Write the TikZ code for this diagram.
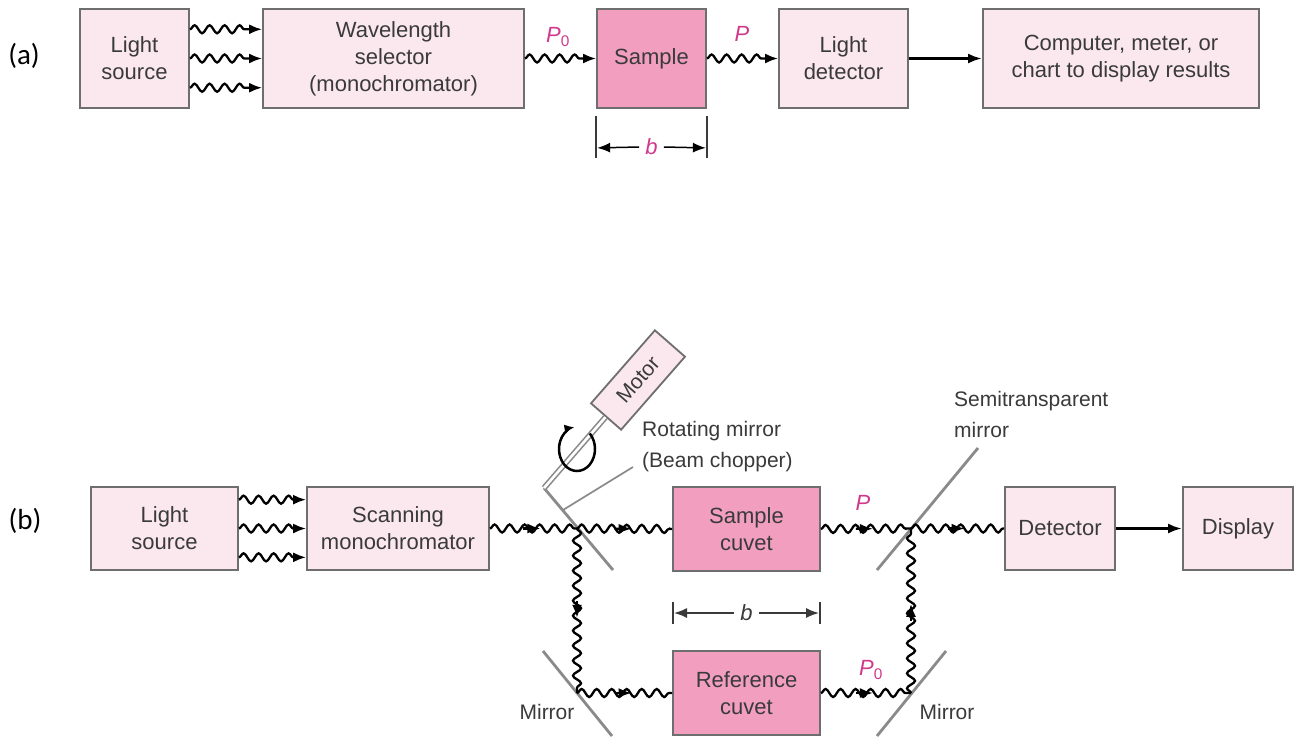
\documentclass[tikz,border=0pt]{standalone}
\usepackage{fontspec}
\setmainfont{Liberation Sans}
\newfontfamily\calib{Carlito}
\usetikzlibrary{decorations.pathmorphing,arrows.meta,calc}
\definecolor{boxfill}{HTML}{FBE8EF}
\definecolor{cuvfill}{HTML}{F29FBF}
\definecolor{boxline}{HTML}{6E6E6E}
\definecolor{txt}{HTML}{3A3A3A}
\definecolor{mag}{HTML}{D2388A}
\definecolor{mirr}{HTML}{8A8A8A}
\newcommand\beamline[2]{\draw[wave] (#1) -- (#2); \draw[tipline] ($(#1)!0.5!(#2)!10pt!(#1)$) -- ($(#1)!0.5!(#2)!-7pt!(#1)$);}
\begin{document}
\begin{tikzpicture}[x=1pt,y=-1pt,
  box/.style={draw=boxline, line width=1.8pt, fill=boxfill, text=txt, align=center, inner sep=0pt, font=\fontsize{22}{27}\selectfont},
  cuv/.style={box, fill=cuvfill},
  wave/.style={decorate, decoration={snake, amplitude=4pt, segment length=15pt, post length=1pt}, line width=2.3pt},
  wavearrow/.style={decorate, decoration={snake, amplitude=4pt, segment length=15pt, post length=12pt}, line width=2.3pt, -{Latex[length=13pt,width=10pt]}},
  tipline/.style={line width=2.3pt, -{Latex[length=13pt,width=10pt]}},
  solidarrow/.style={line width=2.8pt, -{Latex[length=14pt,width=10pt]}},
  dimarrow/.style={line width=1.5pt, -{Latex[length=13pt,width=10pt]}},
  tickline/.style={line width=1.5pt, draw=txt},
  mirror/.style={draw=mirr, line width=2.8pt},
  leader/.style={draw=mirr, line width=1.7pt},
  lab/.style={text=txt, inner sep=0pt, font=\fontsize{21}{31}\selectfont},
  plab/.style={text=mag, inner sep=0pt, font=\fontsize{22}{22}\selectfont},
  panel/.style={text=black, inner sep=0pt, font=\calib\fontsize{29}{30}\selectfont}
]
\useasboundingbox[fill=white] (0,0) rectangle (1296,740);

% ---------------- (a) ----------------
\node[panel] (la) at (24,56) {(a)};
\node[box, minimum width=109pt, minimum height=99pt] (lsa) at (134.5,58.5) {Light\\source};
\node[box, minimum width=261pt, minimum height=99pt] (wl) at (393.5,58.5) {Wavelength\\selector\\(monochromator)};
\node[cuv, minimum width=109pt, minimum height=99pt] (sa) at (651.5,58.5) {Sample};
\node[box, minimum width=129pt, minimum height=99pt] (ld) at (843.5,58.5) {Light\\detector};
\node[box, minimum width=276pt, minimum height=99pt] (comp) at (1121,58.5) {Computer, meter, or\\chart to display results};

\foreach \f in {0.21,0.5,0.79}{
  \draw[wavearrow] ($(lsa.north east)!\f!(lsa.south east)$) -- ($(wl.north west)!\f!(wl.south west)$);
}
\draw[wavearrow] (wl.east) -- (sa.west);
\draw[wavearrow] (sa.east) -- (ld.west);
\draw[solidarrow] (ld.east) -- (comp.west);
\node[plab] (p0a) at (558,37) {\textit{P}\textsubscript{0}};
\node[plab] (pa) at (742,34) {\textit{P}};

\draw[tickline] ($(sa.south west)+(0,7)$) -- ($(sa.south west)+(0,49)$);
\draw[tickline] ($(sa.south east)+(0,7)$) -- ($(sa.south east)+(0,49)$);
\node[plab] (ba) at (651.5,147) {\textit{b}};
\draw[dimarrow] ($(ba.west)+(-6,0)$) -- ($(sa.south west)+(1,39)$);
\draw[dimarrow] ($(ba.east)+(6,0)$) -- ($(sa.south east)+(-1,39)$);

% ---------------- (b) ----------------
\node[panel] (lb) at (25,521) {(b)};
\node[box, minimum width=147pt, minimum height=83pt] (lsb) at (164.5,528.5) {Light\\source};
\node[box, minimum width=182pt, minimum height=83pt] (scan) at (398,528.5) {Scanning\\monochromator};
\node[cuv, minimum width=147pt, minimum height=84pt] (samp) at (746.5,529) {Sample\\cuvet};
\node[cuv, minimum width=147pt, minimum height=84pt] (ref) at (746.5,693) {Reference\\cuvet};
\node[box, minimum width=110pt, minimum height=83pt] (det) at (1060,528.5) {Detector};
\node[box, minimum width=110pt, minimum height=83pt] (disp) at (1238,528.5) {Display};

\foreach \f in {0.16,0.5,0.84}{
  \draw[wavearrow] ($(lsb.north east)!\f!(lsb.south east)$) -- ($(scan.north west)!\f!(scan.south west)$);
}

\coordinate (M1) at (577,528.5);
\coordinate (M2) at (577,693);
\coordinate (S1) at (911,528.5);
\coordinate (M3) at (911,693);

% mirrors
\coordinate (V) at (544,488);
\coordinate (RM2) at (613,570);
\draw[mirror] (V) -- (RM2);
\coordinate (LM1) at (543,651);
\coordinate (LM2) at (612,736);
\draw[mirror] (LM1) -- (LM2);
\coordinate (SM1) at (877,570);
\coordinate (SM2) at (978,448);
\draw[mirror] (SM1) -- (SM2);
\coordinate (RR1) at (877,736);
\coordinate (RR2) at (946,651);
\draw[mirror] (RR1) -- (RR2);

% motor and shaft
\node[box, rotate=48.8, minimum width=97pt, minimum height=40pt, font=\fontsize{21}{21}\selectfont] (motor) at (638,380) {Motor};
\draw[draw=mirr, line width=1.6pt, double=white, double distance=2.6pt] (V) -- (motor.west);
\draw[line width=2.5pt, -{Latex[length=10pt,width=9pt]}] (577,449) ++(-45:18 and 22) arc[start angle=-45, end angle=262, x radius=18, y radius=22];

% beams
\beamline{scan.east}{M1}
\beamline{M1}{samp.west}
\beamline{M1}{M2}
\beamline{M2}{ref.west}
\beamline{samp.east}{S1}
\beamline{ref.east}{M3}
\beamline{M3}{S1}
\beamline{S1}{det.west}
\draw[solidarrow] (det.east) -- (disp.west);

\node[plab] (pb) at (863,503) {\textit{P}};
\node[plab] (p0b) at (871,670) {\textit{P}\textsubscript{0}};

% dimension b
\draw[tickline] (673,602) -- (673,624);
\draw[tickline] (820,602) -- (820,624);
\node[lab, font=\fontsize{22}{22}\selectfont] (bb) at (746.5,613) {\textit{b}};
\draw[dimarrow, draw=txt] ($(bb.west)+(-6,0)$) -- (674,613);
\draw[dimarrow, draw=txt] ($(bb.east)+(6,0)$) -- (819,613);

% labels
\draw[leader] (563,510) -- (633,467);
\node[lab, anchor=west, align=left] (rml) at (642,447) {Rotating mirror\\(Beam chopper)};
\node[lab, anchor=west, align=left] (sml) at (954,414) {Semitransparent\\mirror};
\node[lab] (mll) at (547,712) {Mirror};
\node[lab] (mrl) at (947,712) {Mirror};
\end{tikzpicture}
\end{document}
